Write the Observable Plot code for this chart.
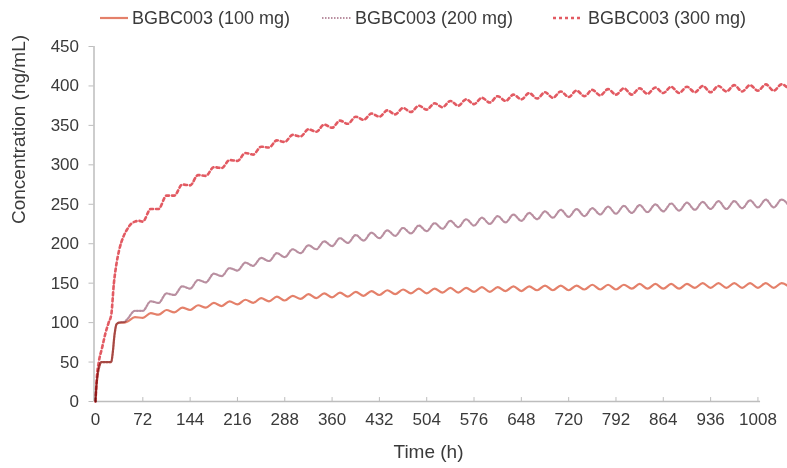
<!DOCTYPE html>
<html>
<head>
<meta charset="utf-8">
<script src="https://cdn.jsdelivr.net/npm/d3@7"></script>
<script src="https://cdn.jsdelivr.net/npm/@observablehq/plot@0.6"></script>
<style>
  body { margin: 0; background: #fff; font-family: "Liberation Sans", Arial, sans-serif; }
  #wrap { position: relative; width: 787px; height: 468px; }
  #legend { position: relative; height: 36px; width: 787px; }
  .item { position: absolute; top: 7px; font-size: 18px; color: #3a3a3a; white-space: nowrap; line-height: 22px; }
  .sw { position: absolute; top: 10px; }
</style>
</head>
<body>
<div id="wrap">
  <div id="legend"></div>
  <div id="chart"></div>
</div>
<script>
// ---- data ----
const seriesNames = ["BGBC003 (100 mg)", "BGBC003 (200 mg)", "BGBC003 (300 mg)"];
const seriesColors = ["#e4806a", "#b98fa0", "#e25a62"];

const xTicks = [0, 72, 144, 216, 288, 360, 432, 504, 576, 648, 720, 792, 864, 936, 1008];
const yTicks = [0, 50, 100, 150, 200, 250, 300, 350, 400, 450];

// dosing grid (h)
const doseHours = [0,24,48,72,96,120,144,168,192,216,240,264,288,312,336,360,384,408,432,456,480,504,528,552,576,600,624,648,672,696,720,744,768,792,816,840,864,888,912,936,960,984,1008,1032,1056];
const peakLagHours = 12;

// loading phase (h, ng/mL)
const early100Hours = [0, 1, 3, 6, 9, 24, 26, 29, 32, 36, 44];
const early100Conc  = [0, 15, 32, 45, 50, 50, 60, 85, 98, 100, 100];
const early200Hours = [0, 1, 3, 6, 9, 24, 26, 29, 32, 36, 44];
const early200Conc  = [0, 15, 32, 45, 50, 50, 60, 85, 98, 100, 101];
const early300Hours = [0, 2, 5, 10, 15, 20, 24, 28, 32, 36, 42, 48, 54, 60, 66];
const early300Conc  = [0, 30, 50, 68, 86, 100, 110, 150, 175, 192, 208, 218, 225, 228, 229];

// troughs from 48 h (100/200 mg) and 72 h (300 mg); peaks 12 h after each dose
const trough100 = [101,106,110,113,116,119,121,123,125,127,128,130,131,132,133,134,135,136,137,137,138,138,139,139,140,140,141,141,141,142,142,142,143,143,143,143,144,144,144,144,144,144,145];
const peak100   = [107,112,116,119,122,125,127,129,131,133,134,136,137,138,139,140,141,142,143,143,144,144,145,145,146,146,147,147,147,148,148,148,149,149,149,149,150,150,150,150,150,150];
const trough200 = [104,115,125,135,143,151,159,166,172,178,183,188,193,197,201,204,207,210,213,216,219,221,223,225,227,229,231,233,234,235,237,238,239,240,241,242,243,244,244,245,246,246,247];
const peak200   = [115,127,137,146,154,162,169,176,182,188,193,198,203,207,211,214,217,220,223,226,229,231,233,235,237,239,241,243,244,245,247,248,249,250,251,252,253,254,254,255,256,256];
const trough300 = [228,244,261,274,286,296,305,313,322,329,336,342,347,352,357,361,364,367,370,373,375,377,379,381,383,384,385,386,387,388,389,389,390,391,391,392,392,393,393,394,394,395];
const peak300   = [244,261,275,287,297,306,315,323,331,338,345,351,356,361,365,369,372,375,378,381,383,385,387,389,391,392,393,394,395,396,397,397,398,399,399,400,400,401,401,402,402];

// ---- build table ----
function build(name, eh, ec, troughs, peaks, firstDoseIdx) {
  const rows = eh.map((t, i) => ({series: name, t, v: ec[i]}));
  troughs.forEach((v, i) => {
    const t0 = doseHours[firstDoseIdx + i];
    rows.push({series: name, t: t0, v});
    if (i < peaks.length) rows.push({series: name, t: t0 + peakLagHours, v: peaks[i]});
  });
  return rows;
}
const rows100 = build(seriesNames[0], early100Hours, early100Conc, trough100, peak100, 2);
const rows200 = build(seriesNames[1], early200Hours, early200Conc, trough200, peak200, 2);
const rows300 = build(seriesNames[2], early300Hours, early300Conc, trough300, peak300, 3);

const axisGray = "#bdbdbd";
const textColor = "#3a3a3a";
const dashes = [null, "1.5 1.5", "3 3"];

const plot = Plot.plot({
  width: 787,
  height: 432,
  marginLeft: 95,
  marginRight: 0,
  marginTop: 10,
  marginBottom: 67,
  x: {domain: [0, 1053]},
  y: {domain: [0, 450]},
  style: {fontFamily: "'Liberation Sans', Arial, sans-serif", fontSize: "17px", color: textColor, background: "#fff"},
  marks: [
    Plot.ruleY([0], {x1: 0, x2: 1012, stroke: axisGray, strokeWidth: 1.5}),
    Plot.ruleX([0], {y1: 0, y2: 450, stroke: axisGray, strokeWidth: 1.5, dx: -1.5}),
    Plot.ruleX(xTicks, {y1: 0, y2: 5, stroke: axisGray}),
    Plot.axisY({ticks: yTicks, tickSize: 5, tickPadding: 10, stroke: axisGray, label: null, dx: -1.5, tickFormat: d => String(d)}),
    Plot.axisX({ticks: xTicks, tickSize: 0, tickPadding: 11, label: null, tickFormat: d => String(d)}),
    Plot.line(rows100, {x: "t", y: "v", stroke: seriesColors[0], strokeWidth: 2.2, curve: "monotone-x", mixBlendMode: "multiply"}),
    Plot.line(rows200, {x: "t", y: "v", stroke: seriesColors[1], strokeWidth: 2.2, strokeDasharray: dashes[1], curve: "monotone-x", mixBlendMode: "multiply"}),
    Plot.line(rows300, {x: "t", y: "v", stroke: seriesColors[2], strokeWidth: 2.6, strokeDasharray: dashes[2], curve: "monotone-x", mixBlendMode: "multiply"}),
    Plot.text(["Concentration (ng/mL)"], {frameAnchor: "left", dx: -77, rotate: -90, fontSize: 19, fill: textColor}),
    Plot.text(["Time (h)"], {frameAnchor: "bottom", dx: -13, dy: 56, fontSize: 19, fill: textColor})
  ]
});
document.getElementById("chart").appendChild(plot);

// ---- legend ----
const legend = document.getElementById("legend");
const legendPos = [{sx: 100, sw: 28, tx: 132}, {sx: 322, sw: 30, tx: 355}, {sx: 553, sw: 30, tx: 588}];
seriesNames.forEach((name, i) => {
  const p = legendPos[i];
  const svg = d3.create("svg").attr("class", "sw").attr("width", p.sw).attr("height", 6)
    .style("left", p.sx + "px").style("top", "15px");
  svg.append("line").attr("x1", 0).attr("x2", p.sw).attr("y1", 3).attr("y2", 3)
    .attr("stroke", seriesColors[i]).attr("stroke-width", i === 2 ? 2.6 : 2.2)
    .attr("stroke-dasharray", dashes[i]);
  legend.appendChild(svg.node());
  const span = document.createElement("span");
  span.className = "item";
  span.style.left = p.tx + "px";
  span.textContent = name;
  legend.appendChild(span);
});
</script>
</body>
</html>
